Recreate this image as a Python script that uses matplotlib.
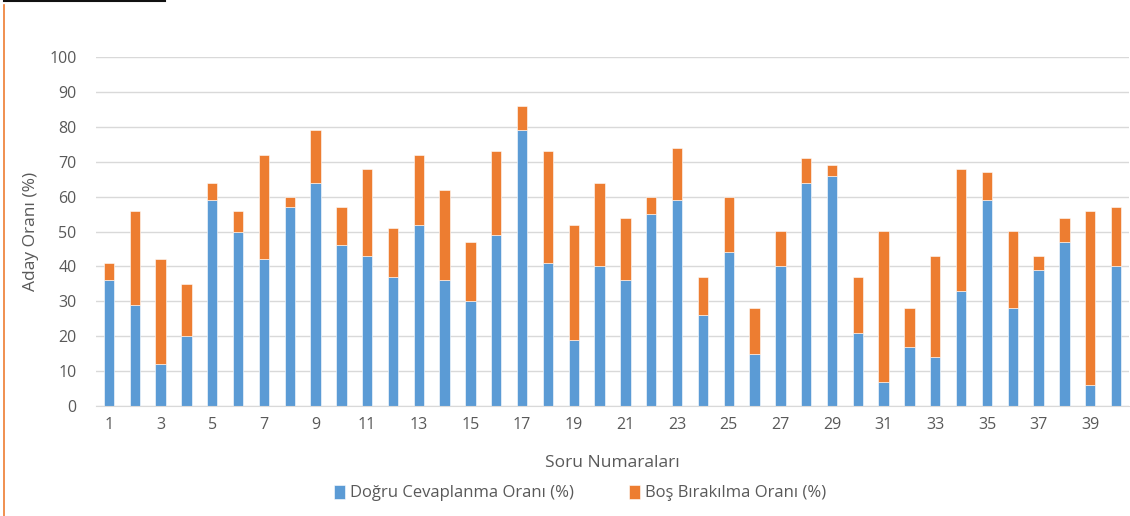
import matplotlib.pyplot as plt
import numpy as np

plt.rcParams['font.family'] = ['Open Sans', 'DejaVu Sans']

# soru numaraları ve oranlar
questions = list(range(1, 41))
dogru = [36, 29, 12, 20, 59, 50, 42, 57, 64, 46,
         43, 37, 52, 36, 30, 49, 79, 41, 19, 40,
         36, 55, 59, 26, 44, 15, 40, 64, 66, 21,
         7, 17, 14, 33, 59, 28, 39, 47, 6, 40]
toplam = [41, 56, 42, 35, 64, 56, 72, 60, 79, 57,
          68, 51, 72, 62, 47, 73, 86, 73, 52, 64,
          54, 60, 74, 37, 60, 28, 50, 71, 69, 37,
          50, 28, 43, 68, 67, 50, 43, 54, 56, 57]
bos = [t - d for t, d in zip(toplam, dogru)]
tick_labels = [str(q) if q % 2 == 1 else "" for q in questions]

blue = "#5B9BD5"
orange = "#ED7D31"
text_gray = "#595959"

fig = plt.figure(figsize=(11.3, 5.16), dpi=100)
ax = fig.add_axes([96 / 1130, 110 / 516, 1033 / 1130, 349 / 516])

x = np.array(questions)
ax.bar(x, dogru, width=0.4, color=blue, edgecolor="white", linewidth=0.4,
       label="Doğru Cevaplanma Oranı (%)", zorder=3)
ax.bar(x, bos, width=0.4, bottom=dogru, color=orange, edgecolor="white", linewidth=0.4,
       label="Boş Bırakılma Oranı (%)", zorder=3)

ax.set_xlim(0.5, 40.5)
ax.set_ylim(0, 100)
ax.set_yticks(range(0, 101, 10))
ax.set_xticks(x)
ax.set_xticklabels(tick_labels)
ax.tick_params(axis="both", length=0, labelsize=11.5, colors=text_gray, pad=8)
ax.tick_params(axis="y", pad=14)

ax.grid(axis="y", color="#D9D9D9", linewidth=1, zorder=0)
for side in ["top", "right", "left"]:
    ax.spines[side].set_visible(False)
ax.spines["bottom"].set_color("#D9D9D9")
ax.spines["bottom"].set_zorder(4)

ax.set_ylabel("Aday Oranı (%)", fontsize=12.5, color=text_gray, labelpad=7)
ax.set_xlabel("Soru Numaraları", fontsize=12.5, color=text_gray, labelpad=16)

leg = fig.legend(loc="center", bbox_to_anchor=(580 / 1130, 1 - 493 / 516), ncol=2,
                 frameon=False, fontsize=12, handlelength=0.65, handleheight=0.9,
                 handletextpad=0.3, columnspacing=3.3)
for t in leg.get_texts():
    t.set_color(text_gray)

# çerçeve kenarları
fig.add_artist(plt.Line2D([4 / 1130, 4 / 1130], [0, 1 - 5 / 516], color=orange, linewidth=1.2))
fig.add_artist(plt.Line2D([4 / 1130, 165 / 1130], [1 - 0.8 / 516, 1 - 0.8 / 516], color="#111111", linewidth=1.5))

fig.savefig("out.png", dpi=100)
